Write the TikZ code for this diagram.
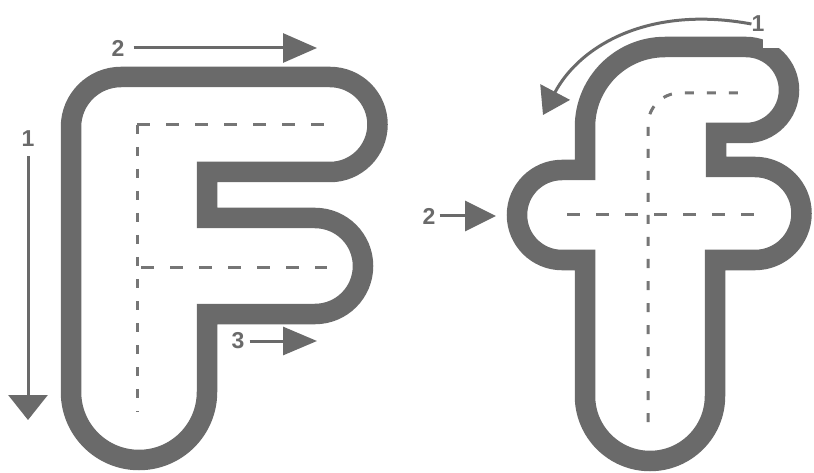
\documentclass[tikz,border=0pt]{standalone}
\usepackage{fontspec}
\setmainfont{Liberation Sans}
\usetikzlibrary{arrows.meta}
\definecolor{band}{RGB}{106,106,106}
\definecolor{dsh}{RGB}{118,118,118}
\begin{document}
\begin{tikzpicture}[x=1pt,y=-1pt,
  outline/.style={draw=band, line width=20.5pt, line join=miter},
  hdash/.style={draw=dsh, line width=3pt, dash pattern=on 13pt off 16pt},
  vdash/.style={draw=dsh, line width=3pt, dash pattern=on 9pt off 13pt},
  arr/.style n args={2}{draw=band, line width=3pt, -{Triangle[length=#1pt, width=#2pt]}},
  lab/.style={text=band, inner sep=0pt, font=\fontsize{23}{23}\selectfont\bfseries}]
\useasboundingbox (0,0) rectangle (814,473);
\fill[white] (0,0) rectangle (814,473);

% ---- capital F ----
\draw[outline] (71,392) -- (71,127) arc[start angle=180, end angle=270, radius=50]
  -- (330,77) arc[start angle=270, end angle=450, radius=47.5]
  -- (207,172) -- (207,218) -- (315,218) arc[start angle=270, end angle=450, radius=48]
  -- (207,314) -- (207,392) arc[start angle=0, end angle=180, radius=68] -- cycle;
\draw[vdash] (137,125) -- (137,412);
\draw[hdash] (137,125) -- (327,125);
\draw[hdash] (141,267) -- (327,267);

% ---- small f ----
\draw[outline] (585,396) -- (585,260) -- (562,260) arc[start angle=90, end angle=270, radius=45]
  -- (585,170) -- (585,127) arc[start angle=180, end angle=270, radius=80]
  -- (746,47) arc[start angle=270, end angle=450, radius=43]
  -- (716,133) -- (716,167) -- (755,167) arc[start angle=270, end angle=450, radius=46.5]
  -- (715,260) -- (715,396) arc[start angle=0, end angle=180, radius=65] -- cycle;
\draw[vdash] (648,422) -- (648,125) arc[start angle=180, end angle=270, radius=32] -- (743,93);
\draw[hdash] (567,215) -- (762,215);
\fill[white] (763,0) rectangle (814,48);

% ---- stroke arrows and numbers ----
\node[lab] (F1) at (28,139) {1};
\node[lab] (F2) at (118,48) {2};
\node[lab] (F3) at (238,341) {3};
\node[lab] (f2) at (429,216) {2};
\node[lab] (f1) at (758,24) {1};
\coordinate (F1e) at (28,420);
\coordinate (F2e) at (317,48);
\coordinate (F3e) at (317,341);
\coordinate (f2e) at (496,216);
\coordinate (f1e) at (543,115);
\draw[arr={25}{39}, shorten <=9pt] (F1.south) -- (F1e);
\draw[arr={34}{29}, shorten <=9pt] (F2.east) -- (F2e);
\draw[arr={34}{28}, shorten <=5pt] (F3.east) -- (F3e);
\draw[arr={31}{30}, shorten <=4pt] (f2.east) -- (f2e);
\draw[arr={26}{33}] (f1.west) .. controls (650,5) and (580,45) .. (f1e);
\end{tikzpicture}
\end{document}
